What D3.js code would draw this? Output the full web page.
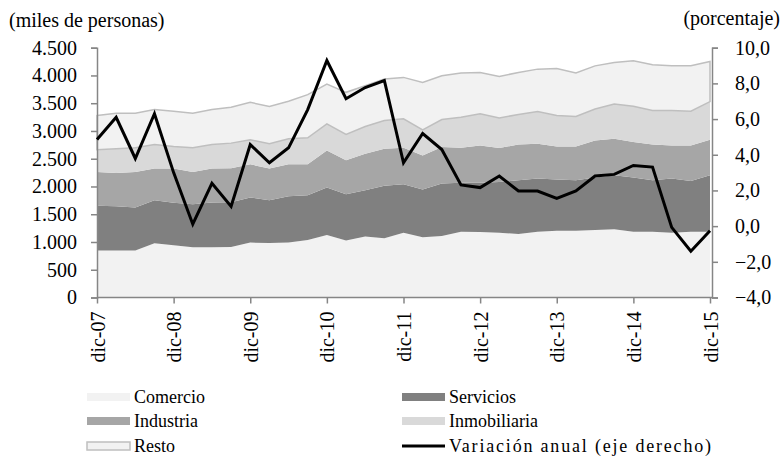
<!DOCTYPE html>
<html>
<head>
<meta charset="utf-8">
<script src="https://cdn.jsdelivr.net/npm/d3@7/dist/d3.min.js"></script>
<style>
body { margin:0; background:#fff; }
svg { font-family:"Liberation Serif","Times New Roman",serif; }
</style>
</head>
<body>
<svg id="chart" width="782" height="456"></svg>
<script>
// trimestral, dic-07 .. dic-15
var years = ["07","08","09","10","11","12","13","14","15"];
var xLabels = years.map(function(y){ return "dic-" + y; });

var comercio = [846,846,846,978,942,906,906,910,989,983,989,1037,1127,1025,1097,1067,1168,1085,1109,1186,1180,1168,1145,1186,1204,1204,1216,1229,1186,1186,1168,1186,1186];
var servicios = [806,800,777,776,764,776,806,808,813,771,837,807,854,837,836,944,873,860,944,879,885,914,967,957,921,908,944,973,974,926,975,914,1016];
var industria = [610,598,639,568,616,580,610,610,597,568,573,555,669,609,658,669,657,615,656,633,675,610,646,627,597,610,669,657,639,646,597,640,640];
var inmobiliaria = [401,436,436,436,400,436,436,453,443,448,460,479,478,466,489,508,520,461,497,549,568,544,537,579,555,538,568,628,645,609,627,615,686];
var resto = [614,639,621,627,633,621,627,646,674,669,675,776,718,759,735,747,747,854,788,796,746,746,759,765,849,783,776,746,819,824,806,818,723];
var variacion = [4.85,6.1,3.79,6.3,3.0,0.11,2.4,1.1,4.57,3.55,4.39,6.53,9.28,7.14,7.77,8.16,3.55,5.19,4.29,2.31,2.16,2.81,1.97,1.97,1.56,1.97,2.81,2.9,3.4,3.31,-0.07,-1.41,-0.26];

var leftTicks = [0,500,1000,1500,2000,2500,3000,3500,4000,4500];
var rightTicks = [-4,-2,0,2,4,6,8,10];

var series = [
  {name:"Comercio", values:comercio, fill:"#f2f2f2", stroke:"none"},
  {name:"Servicios", values:servicios, fill:"#808080", stroke:"none"},
  {name:"Industria", values:industria, fill:"#a6a6a6", stroke:"none"},
  {name:"Inmobiliaria", values:inmobiliaria, fill:"#d9d9d9", stroke:"none"},
  {name:"Resto", values:resto, fill:"#f2f2f2", stroke:"#bfbfbf"}
];

var svg = d3.select("#chart");
var axisColor = "#868686";

var x = d3.scaleLinear().domain([0, comercio.length - 1]).range([97, 710]);
var yL = d3.scaleLinear().domain([0, 4500]).range([297.5, 47.7]);
var yR = d3.scaleLinear().domain([-4, 10]).range([297.5, 47.7]);

var rows = comercio.map(function(d, i){
  var r = {i:i};
  series.forEach(function(s){ r[s.name] = s.values[i]; });
  return r;
});
var stack = d3.stack().keys(series.map(function(s){ return s.name; }));
var layers = stack(rows);

var area = d3.area()
  .x(function(d){ return x(d.data.i); })
  .y0(function(d){ return yL(d[0]); })
  .y1(function(d){ return yL(d[1]); });

svg.append("g").selectAll("path").data(layers).enter().append("path")
  .attr("d", area)
  .attr("fill", function(d, k){ return series[k].fill; })
  .attr("stroke", function(d, k){ return series[k].stroke; })
  .attr("stroke-width", 1.5);

// ejes
var gL = svg.append("g").attr("transform", "translate(97,0)")
  .call(d3.axisLeft(yL).tickValues(leftTicks).tickSize(6).tickPadding(14)
    .tickFormat(function(d){ return d3.format(",")(d).replace(/,/g, "."); }));
var gR = svg.append("g").attr("transform", "translate(712,0)")
  .call(d3.axisRight(yR).tickValues(rightTicks).tickSize(6).tickPadding(17)
    .tickFormat(function(d){ return d3.format(".1f")(d).replace(".", ","); }));
var gX = svg.append("g").attr("transform", "translate(0,297.5)")
  .call(d3.axisBottom(x).tickValues(d3.range(0, comercio.length, 4)).tickSize(6)
    .tickFormat(function(d){ return xLabels[d / 4]; }));
gX.select(".domain").attr("d", "M97,0H712");

[gL, gR, gX].forEach(function(g){
  g.select(".domain").attr("stroke", axisColor).attr("stroke-width", 1.5);
  g.selectAll(".tick line").attr("stroke", axisColor).attr("stroke-width", 1.5);
  g.selectAll("text").attr("fill", "#000").style("font-size", "20px")
    .style("font-family", "Liberation Serif");
});
gX.selectAll("text")
  .attr("transform", "rotate(-90)")
  .attr("text-anchor", "end")
  .attr("x", -14).attr("y", 0).attr("dy", "0.35em");

// variacion anual
var line = d3.line()
  .x(function(d, i){ return x(i); })
  .y(function(d){ return yR(d); });
svg.append("path").datum(variacion)
  .attr("d", line)
  .attr("fill", "none")
  .attr("stroke", "#000")
  .attr("stroke-width", 3)
  .attr("stroke-linejoin", "miter");

svg.append("text").attr("x", 9).attr("y", 27).style("font-size", "20px").text("(miles de personas)");
svg.append("text").attr("x", 780).attr("y", 25).attr("text-anchor", "end").style("font-size", "20px").text("(porcentaje)");

// leyenda
var legend = [
  {name:"Comercio", fill:"#f2f2f2", stroke:"none", col:0, row:0},
  {name:"Servicios", fill:"#808080", stroke:"none", col:1, row:0},
  {name:"Industria", fill:"#a6a6a6", stroke:"none", col:0, row:1},
  {name:"Inmobiliaria", fill:"#d9d9d9", stroke:"none", col:1, row:1},
  {name:"Resto", fill:"#f2f2f2", stroke:"#bfbfbf", col:0, row:2},
  {name:"Variación anual (eje derecho)", line:true, col:1, row:2, len:262}
];
var colX = [87, 402], rowY = [397, 421, 446];
var lg = svg.append("g").selectAll("g").data(legend).enter().append("g")
  .attr("transform", function(d){ return "translate(" + colX[d.col] + "," + rowY[d.row] + ")"; });
lg.each(function(d){
  var g = d3.select(this);
  if (d.line) {
    g.append("line").attr("x1", 0).attr("x2", 43).attr("y1", 0).attr("y2", 0)
      .attr("stroke", "#000").attr("stroke-width", 3);
  } else {
    g.append("rect").attr("x", 0).attr("y", -4).attr("width", 43).attr("height", 8)
      .attr("fill", d.fill).attr("stroke", d.stroke).attr("stroke-width", 1.5);
  }
  var t = g.append("text").attr("x", 47).attr("dy", "0.35em").style("font-size", "18px").text(d.name);
  if (d.len) t.attr("textLength", d.len).attr("lengthAdjust", "spacing");
});
</script>
</body>
</html>
